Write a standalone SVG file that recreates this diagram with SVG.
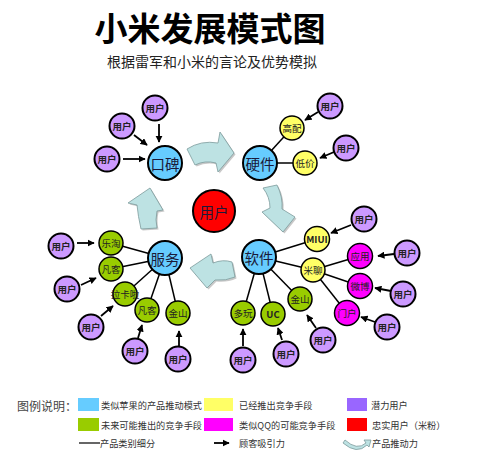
<svg xmlns="http://www.w3.org/2000/svg" width="482" height="466" viewBox="0 0 482 466">
<defs>
<marker id="ah" viewBox="0 0 10 10" refX="9" refY="5" markerWidth="4" markerHeight="4" orient="auto" markerUnits="strokeWidth">
<path d="M0,0 L10,5 L0,10 Z" fill="#000"/>
</marker>
<style>
text{font-family:"Noto Sans CJK SC","Noto Sans",sans-serif;}
.main{fill:#66ccff;stroke:#000;stroke-width:2;}
.usr{fill:#cc99ff;stroke:#000;stroke-width:2;}
.yel{fill:#ffff66;stroke:#000;stroke-width:1.5;}
.grn{fill:#99cc00;stroke:#000;stroke-width:1.5;}
.mag{fill:#ff00ff;stroke:#000;stroke-width:1.5;}
.red{fill:#ff0000;stroke:#000;stroke-width:2;}
.lt{font-size:14.5px;fill:#1a1a3a;text-anchor:middle;dominant-baseline:central;}
.ut{font-size:9.5px;font-weight:bold;fill:#222;text-anchor:middle;dominant-baseline:central;}
.st{font-size:9.5px;fill:#222;text-anchor:middle;dominant-baseline:central;}
.ln{stroke:#000;stroke-width:1.5;fill:none;}
.ar{stroke:#000;stroke-width:1.8;fill:none;marker-end:url(#ah);}
.push{fill:#bde2e3;stroke:#7c9a9c;stroke-width:0.8;}
.shad{fill:#9a9a9a;opacity:0.55;}
.lg{font-size:9.2px;fill:#333;dominant-baseline:central;}
</style>
</defs>
<rect width="482" height="466" fill="#fff"/>
<text x="210" y="41" font-size="33" font-weight="bold" text-anchor="middle" fill="#000">小米发展模式图</text>
<text x="212" y="67" font-size="14" text-anchor="middle" fill="#222">根据雷军和小米的言论及优势模拟</text>

<g id="push-arrows">
<path class="shad" transform="translate(1.5,1.5)" d="M187,149 Q201,140 218,143 L220,132 L234,153 L218,172 L216,163 Q205,160 195,165 Z"/>
<path class="push" d="M187,149 Q201,140 218,143 L220,132 L234,153 L218,172 L216,163 Q205,160 195,165 Z"/>
<path class="shad" transform="translate(1.5,1.5)" d="M263,188 L277,185 Q283,197 282,209 L295,217 L283,232 L262,212 L270,208 Q270,197 263,188 Z"/>
<path class="push" d="M263,188 L277,185 Q283,197 282,209 L295,217 L283,232 L262,212 L270,208 Q270,197 263,188 Z"/>
<path class="shad" transform="translate(1.5,1.5)" d="M232,262 Q223,259 213,263 L211,254 L190,268 L207,288 L215,280 Q226,281 235,277 Z"/>
<path class="push" d="M232,262 Q223,259 213,263 L211,254 L190,268 L207,288 L215,280 Q226,281 235,277 Z"/>
<path class="shad" transform="translate(1.5,1.5)" d="M150,188 L163,210 L157,211 Q155,220 157,228 L141,229 Q138,216 137,205 L128,203 Z"/>
<path class="push" d="M150,188 L163,210 L157,211 Q155,220 157,228 L141,229 Q138,216 137,205 L128,203 Z"/>
</g>

<g id="connectors">
<line class="ln" x1="260" y1="163" x2="292" y2="128"/>
<line class="ln" x1="260" y1="163" x2="305" y2="163"/>
<line class="ln" x1="165" y1="258" x2="111" y2="243"/>
<line class="ln" x1="165" y1="258" x2="111" y2="269"/>
<line class="ln" x1="165" y1="258" x2="125" y2="294"/>
<line class="ln" x1="165" y1="258" x2="147" y2="310"/>
<line class="ln" x1="165" y1="258" x2="178" y2="313"/>
<line class="ln" x1="259" y1="257" x2="317" y2="239"/>
<line class="ln" x1="259" y1="257" x2="313" y2="270"/>
<line class="ln" x1="313" y1="270" x2="360" y2="256"/>
<line class="ln" x1="313" y1="270" x2="360" y2="286"/>
<line class="ln" x1="313" y1="270" x2="347" y2="313"/>
<line class="ln" x1="259" y1="257" x2="300" y2="299"/>
<line class="ln" x1="259" y1="257" x2="273" y2="314"/>
<line class="ln" x1="259" y1="257" x2="243" y2="313"/>
<line class="ar" x1="159" y1="124" x2="159" y2="142"/>
<line class="ar" x1="134" y1="135" x2="147" y2="145"/>
<line class="ar" x1="123" y1="159" x2="145" y2="159"/>
<line class="ar" x1="318" y1="112" x2="305" y2="120"/>
<line class="ar" x1="334" y1="152" x2="320" y2="158"/>
<line class="ar" x1="77" y1="243" x2="94" y2="243"/>
<line class="ar" x1="81" y1="285" x2="96" y2="278"/>
<line class="ar" x1="101" y1="316" x2="113" y2="306"/>
<line class="ar" x1="138" y1="338" x2="142" y2="325"/>
<line class="ar" x1="179" y1="346" x2="179" y2="331"/>
<line class="ar" x1="351" y1="225" x2="331" y2="233"/>
<line class="ar" x1="394" y1="254" x2="378" y2="256"/>
<line class="ar" x1="391" y1="291" x2="375" y2="288"/>
<line class="ar" x1="375" y1="322" x2="361" y2="317"/>
<line class="ar" x1="316" y1="328" x2="307" y2="315"/>
<line class="ar" x1="282" y1="340" x2="278" y2="328"/>
<line class="ar" x1="243" y1="346" x2="243" y2="329"/>
</g>

<g id="n-center"><circle class="red" cx="214" cy="211" r="21"/><text class="lt" x="214" y="211" font-size="15">用户</text></g>
<g id="n-koubei"><circle class="main" cx="165" cy="163" r="17"/><text class="lt" x="165" y="163">口碑</text></g>
<g id="n-yingjian"><circle class="main" cx="260" cy="163" r="17"/><text class="lt" x="260" y="163">硬件</text></g>
<g id="n-fuwu"><circle class="main" cx="165" cy="258" r="17"/><text class="lt" x="165" y="258">服务</text></g>
<g id="n-ruanjian"><circle class="main" cx="259" cy="257" r="17"/><text class="lt" x="259" y="257">软件</text></g>

<g id="n-gaopei"><circle class="yel" cx="292" cy="128" r="12"/><text class="st" x="292" y="128">高配</text></g>
<g id="n-dijia"><circle class="yel" cx="305" cy="163" r="12"/><text class="st" x="305" y="163">低价</text></g>

<g id="n-letao"><circle class="grn" cx="111" cy="243" r="12"/><text class="st" x="111" y="243">乐淘</text></g>
<g id="n-fanke1"><circle class="grn" cx="111" cy="269" r="12"/><text class="st" x="111" y="269">凡客</text></g>
<g id="n-lakala"><circle class="grn" cx="125" cy="294" r="12"/><text class="st" x="125" y="294">拉卡啦</text></g>
<g id="n-fanke2"><circle class="grn" cx="147" cy="310" r="12"/><text class="st" x="147" y="310">凡客</text></g>
<g id="n-jinshan1"><circle class="grn" cx="178" cy="313" r="12"/><text class="st" x="178" y="313">金山</text></g>

<g id="n-miui"><circle class="yel" cx="317" cy="239" r="12.5"/><text class="ut" x="317" y="239" fill="#000" font-family="Liberation Sans,sans-serif">MIUI</text></g>
<g id="n-miliao"><circle class="yel" cx="313" cy="270" r="12"/><text class="st" x="313" y="270">米聊</text></g>
<g id="n-yingyong"><circle class="mag" cx="360" cy="256" r="12.5"/><text class="st" x="360" y="256">应用</text></g>
<g id="n-weibo"><circle class="mag" cx="360" cy="286" r="12.5"/><text class="st" x="360" y="286">微博</text></g>
<g id="n-menhu"><circle class="mag" cx="347" cy="313" r="12.5"/><text class="st" x="347" y="313">门户</text></g>
<g id="n-jinshan2"><circle class="grn" cx="300" cy="299" r="12"/><text class="st" x="300" y="299">金山</text></g>
<g id="n-uc"><circle class="grn" cx="273" cy="314" r="12"/><text class="ut" x="273" y="314" font-size="11" fill="#000" font-family="Liberation Sans,sans-serif">UC</text></g>
<g id="n-duowan"><circle class="grn" cx="243" cy="313" r="12"/><text class="st" x="243" y="313">多玩</text></g>

<g id="users">
<g id="u1"><circle class="usr" cx="155" cy="108" r="12.5"/><text class="ut" x="155" y="108">用户</text></g>
<g id="u2"><circle class="usr" cx="122" cy="126" r="12.5"/><text class="ut" x="122" y="126">用户</text></g>
<g id="u3"><circle class="usr" cx="107" cy="159" r="12.5"/><text class="ut" x="107" y="159">用户</text></g>
<g id="u4"><circle class="usr" cx="330" cy="106" r="12.5"/><text class="ut" x="330" y="106">用户</text></g>
<g id="u5"><circle class="usr" cx="346" cy="148" r="12.5"/><text class="ut" x="346" y="148">用户</text></g>
<g id="u6"><circle class="usr" cx="61" cy="246" r="12.5"/><text class="ut" x="61" y="246">用户</text></g>
<g id="u7"><circle class="usr" cx="67" cy="289" r="12.5"/><text class="ut" x="67" y="289">用户</text></g>
<g id="u8"><circle class="usr" cx="91" cy="327" r="12.5"/><text class="ut" x="91" y="327">用户</text></g>
<g id="u9"><circle class="usr" cx="135" cy="351" r="12.5"/><text class="ut" x="135" y="351">用户</text></g>
<g id="u10"><circle class="usr" cx="178" cy="359" r="12.5"/><text class="ut" x="178" y="359">用户</text></g>
<g id="u11"><circle class="usr" cx="364" cy="219" r="12.5"/><text class="ut" x="364" y="219">用户</text></g>
<g id="u12"><circle class="usr" cx="407" cy="253" r="12.5"/><text class="ut" x="407" y="253">用户</text></g>
<g id="u13"><circle class="usr" cx="403" cy="294" r="12.5"/><text class="ut" x="403" y="294">用户</text></g>
<g id="u14"><circle class="usr" cx="387" cy="327" r="12.5"/><text class="ut" x="387" y="327">用户</text></g>
<g id="u15"><circle class="usr" cx="323" cy="340" r="12.5"/><text class="ut" x="323" y="340">用户</text></g>
<g id="u16"><circle class="usr" cx="286" cy="354" r="12.5"/><text class="ut" x="286" y="354">用户</text></g>
<g id="u17"><circle class="usr" cx="243" cy="360" r="12.5"/><text class="ut" x="243" y="360">用户</text></g>
</g>

<g id="legend">
<text x="17" y="405" font-size="12" fill="#444" dominant-baseline="central">图例说明：</text>
<rect x="78" y="398" width="21" height="13" fill="#66ccff"/>
<text class="lg" x="101" y="405">类似苹果的产品推动模式</text>
<rect x="204" y="398" width="29" height="13" fill="#ffff66"/>
<text class="lg" x="239" y="405">已经推出竞争手段</text>
<rect x="347" y="398" width="20" height="13" fill="#9966ff"/>
<text class="lg" x="371" y="405">潜力用户</text>
<rect x="78" y="418" width="21" height="13" fill="#99cc00"/>
<text class="lg" x="101" y="425">未来可能推出的竞争手段</text>
<rect x="204" y="418" width="29" height="13" fill="#ff00ff"/>
<text class="lg" x="239" y="425">类似QQ的可能竞争手段</text>
<rect x="347" y="418" width="20" height="13" fill="#ff0000"/>
<text class="lg" x="372" y="425">忠实用户（米粉）</text>
<line x1="79" y1="443" x2="100" y2="443" stroke="#000" stroke-width="1.2"/>
<text class="lg" x="100" y="443">产品类别细分</text>
<line class="ar" x1="214" y1="443" x2="229" y2="443"/>
<text class="lg" x="239" y="443">顾客吸引力</text>
<path class="push" d="M345,440 Q357,451 366,443 L364,440 L371,440 L369,447 L367,445 Q357,455 343,443 Z"/>
<text class="lg" x="372" y="443">产品推动力</text>
</g>
</svg>
